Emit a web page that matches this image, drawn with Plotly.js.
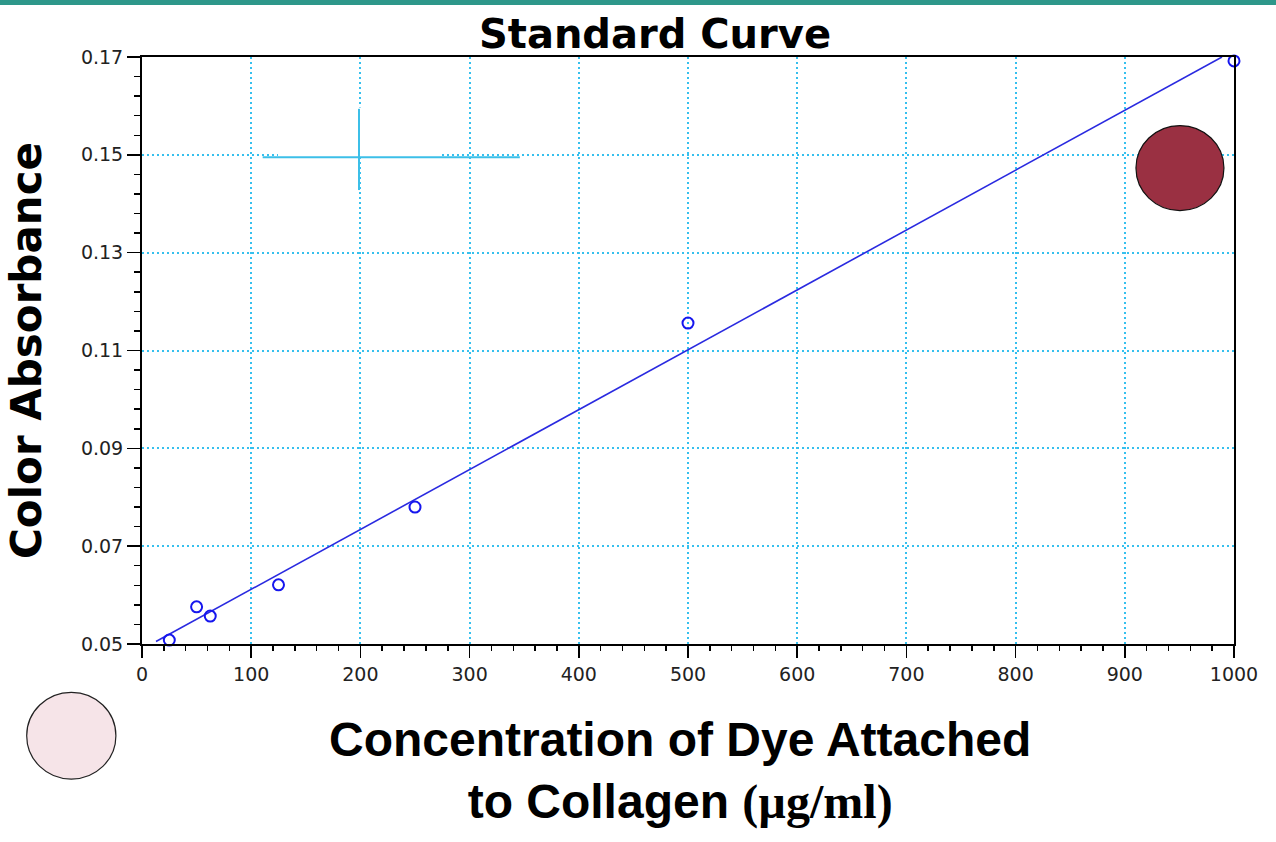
<!DOCTYPE html>
<html>
<head>
<meta charset="utf-8">
<script src="https://cdn.plot.ly/plotly-3.0.1.min.js"></script>
<style>
  html, body { margin: 0; padding: 0; background: #ffffff; }
  #chart { width: 1276px; height: 842px; }
</style>
</head>
<body>
<div id="chart"></div>
<script>
// Standard curve: dye concentration (µg/ml) vs. colour absorbance
const concentration = [25, 50, 62.5, 125, 250, 500, 1000];
const absorbance = [0.0508, 0.0576, 0.0557, 0.0621, 0.0780, 0.1156, 0.1692];

// Linear fit drawn across the measured range
const fitConcentration = [12.8, 989];
const fitAbsorbance = [0.0505, 0.170];

// Axis ranges and ticks
const xRange = [0, 1000];
const yRange = [0.05, 0.17];
const xTicks = [0, 100, 200, 300, 400, 500, 600, 700, 800, 900, 1000];
const yTicks = [0.05, 0.07, 0.09, 0.11, 0.13, 0.15, 0.17];

const gridColor = '#36c0ee';
const tickFont = { family: 'DejaVu Sans, Arial, sans-serif', size: 19, color: '#222222' };
const boldSans = 'DejaVu Sans, Arial, sans-serif';

const W = 1276, H = 842;
const M = { l: 142, r: 42, t: 57, b: 198 };
const plotW = W - M.l - M.r, plotH = H - M.t - M.b;

const traces = [
  {
    x: fitConcentration,
    y: fitAbsorbance,
    mode: 'lines',
    type: 'scatter',
    line: { color: '#2a2ae0', width: 1.6 },
    hoverinfo: 'skip',
    showlegend: false
  },
  {
    x: concentration,
    y: absorbance,
    mode: 'markers',
    type: 'scatter',
    cliponaxis: false,
    marker: { symbol: 'circle-open', size: 11, color: '#1616ee', line: { width: 2, color: '#1616ee' } },
    showlegend: false
  }
];

const shapes = [
  // teal band across the top of the page
  {
    type: 'rect', xref: 'paper', yref: 'paper',
    x0: -M.l / plotW, x1: 1 + M.r / plotW,
    ysizemode: 'pixel', yanchor: 1 + M.t / plotH, y0: -5, y1: 0,
    fillcolor: '#2e978a', line: { width: 0 }, layer: 'above'
  },
  // blank patch behind the crosshair
  {
    type: 'rect', xref: 'x', yref: 'y',
    x0: 124.5, x1: 273, y0: 0.1496, y1: 0.1597,
    fillcolor: '#ffffff', line: { width: 0 }, layer: 'above'
  },
  // crosshair marker near (200, 0.15)
  {
    type: 'line', xref: 'x', yref: 'y',
    x0: 110.5, x1: 346, y0: 0.1495, y1: 0.1495,
    line: { color: '#3cbfe8', width: 2 }, layer: 'above'
  },
  {
    type: 'line', xref: 'x', yref: 'y',
    x0: 198.7, x1: 198.7, y0: 0.1428, y1: 0.1594,
    line: { color: '#3cbfe8', width: 2 }, layer: 'above'
  },
  // dark swatch: high dye concentration
  {
    type: 'circle', xref: 'x', yref: 'y',
    xsizemode: 'pixel', ysizemode: 'pixel',
    xanchor: 950.5, yanchor: 0.1473,
    x0: -44, x1: 44, y0: -42.5, y1: 42.5,
    fillcolor: '#9a3042', line: { color: '#111111', width: 1.2 }, layer: 'above'
  },
  // pale swatch: low dye concentration
  {
    type: 'circle', xref: 'paper', yref: 'paper',
    xsizemode: 'pixel', ysizemode: 'pixel',
    xanchor: (71.3 - M.l) / plotW, yanchor: -(735.7 - (H - M.b)) / plotH,
    x0: -44.6, x1: 44.6, y0: -43.4, y1: 43.4,
    fillcolor: '#f6e4e8', line: { color: '#222222', width: 1.2 }, layer: 'above'
  }
];

// x-axis caption, two lines, set slightly left of the plot centre
const annotations = [
  {
    xref: 'paper', yref: 'paper',
    x: (680 - M.l) / plotW, y: -(771 - (H - M.b)) / plotH,
    xanchor: 'center', yanchor: 'middle',
    showarrow: false,
    text: '<b>Concentration of Dye Attached<br>to Collagen <span style="font-family:\'Liberation Serif\', \'Times New Roman\', serif">(µg/ml)</span></b>',
    font: { family: 'Liberation Sans, Arial, sans-serif', size: 48, color: '#000000' }
  }
];

const layout = {
  width: W,
  height: H,
  margin: M,
  paper_bgcolor: '#ffffff',
  plot_bgcolor: '#ffffff',
  showlegend: false,
  title: {
    text: '<b>Standard Curve</b>',
    font: { family: boldSans, size: 40, color: '#000000' },
    x: 655 / W, xanchor: 'center', xref: 'container',
    y: 1 - 34 / H, yanchor: 'middle', yref: 'container'
  },
  xaxis: {
    range: xRange,
    tickmode: 'array',
    tickvals: xTicks,
    ticktext: xTicks.map(String),
    tickfont: tickFont,
    ticks: 'outside', ticklen: 12, tickwidth: 1.5, tickcolor: '#000000',
    minor: { dtick: 20, tick0: 0, ticks: 'outside', ticklen: 5, tickwidth: 1.5, tickcolor: '#000000', showgrid: false },
    showline: true, linecolor: '#000000', linewidth: 2, mirror: true,
    showgrid: true, gridcolor: gridColor, gridwidth: 2, griddash: '2px,3px',
    zeroline: false,
    automargin: false
  },
  yaxis: {
    range: yRange,
    tickmode: 'array',
    tickvals: yTicks,
    ticktext: yTicks.map(v => v.toFixed(2)),
    tickfont: tickFont,
    ticks: 'outside', ticklen: 13, tickwidth: 1.5, tickcolor: '#000000',
    minor: { dtick: 0.004, tick0: 0.05, ticks: 'outside', ticklen: 6, tickwidth: 1.5, tickcolor: '#000000', showgrid: false },
    showline: true, linecolor: '#000000', linewidth: 2, mirror: true,
    showgrid: true, gridcolor: gridColor, gridwidth: 2, griddash: '2px,3px',
    zeroline: false,
    automargin: false,
    title: {
      text: '<b>Color Absorbance</b>',
      font: { family: boldSans, size: 42, color: '#000000' },
      standoff: 26
    }
  },
  shapes: shapes,
  annotations: annotations
};

Plotly.newPlot('chart', traces, layout, { staticPlot: true, displayModeBar: false });
</script>
</body>
</html>
